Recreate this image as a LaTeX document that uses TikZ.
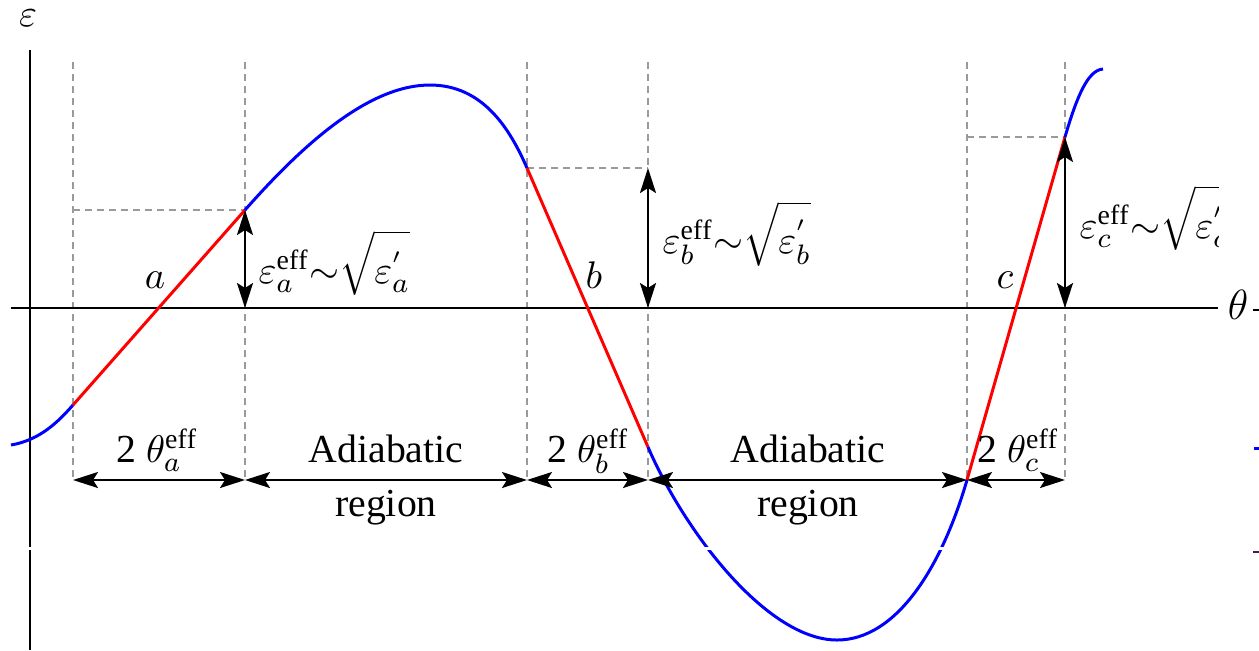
\documentclass[tikz,border=0pt]{standalone}
\usepackage{fontspec}
\setmainfont{Liberation Serif}
\usepackage{xcolor}
\usepackage{tikz}
\usetikzlibrary{arrows.meta}
\definecolor{ink}   {HTML}{000000}
\definecolor{guide} {HTML}{9A9A9A}
\definecolor{adia}  {HTML}{0000FF}
\definecolor{lz}    {HTML}{FF0000}
\definecolor{stub}  {HTML}{4A1A5A}
\tikzset{
  axis/.style  = {draw=ink, line width=0.6pt},
  grid1/.style = {draw=guide, line width=0.45pt, dash pattern=on 0.7mm off 0.5mm},
  slow/.style  = {draw=adia, line width=0.85pt},
  fast/.style  = {draw=lz, line width=0.85pt},
  span/.style  = {{Stealth[length=2.5mm,width=1.6mm,inset=0.5mm]}-{Stealth[length=2.5mm,width=1.6mm,inset=0.5mm]},
                  draw=ink, line width=0.6pt},
  lbl/.style   = {font=\fontsize{11.3}{15.6}\selectfont, text=ink, inner sep=0pt},
}

\begin{document}
\begin{tikzpicture}[x=0.01cm, y=-0.01cm]
  \useasboundingbox (0,0) rectangle (1259,650);

  % points on the curve
  \coordinate (p0)     at (11,445);
  \coordinate (a1)     at (73,405);
  \coordinate (a2)     at (245,210);
  \coordinate (crest)  at (430,85);
  \coordinate (b1)     at (527,168);
  \coordinate (b2)     at (648,447);
  \coordinate (trough) at (837,640);
  \coordinate (c1)     at (967,480);
  \coordinate (c2)     at (1065,137);
  \coordinate (p1)     at (1103,69);

  % guides
  \foreach \gx/\gn in {73/g1, 245/g2, 527/g3, 648/g4, 967/g5, 1065/g6} {
    \coordinate (\gn) at (\gx,480);
    \coordinate (\gn t) at (\gx,62);
    \draw[grid1] (\gn t) -- (\gn);
  }
  \coordinate (ha) at (73,210);
  \coordinate (hb) at (648,168);
  \coordinate (hc) at (967,137);
  \draw[grid1] (ha) -- (a2);
  \draw[grid1] (b1) -- (hb);
  \draw[grid1] (hc) -- (c2);

  % axes
  \coordinate (yb) at (30,650);
  \coordinate (yt) at (30,50);
  \coordinate (xl) at (11,308);
  \coordinate (xr) at (1218,308);
  \draw[axis] (yb) -- (yt);
  \draw[axis] (xl) -- (xr);
  \node[lbl] (eps) at (28,18) {$\varepsilon$};
  \node[lbl, font=\fontsize{12}{14}\selectfont] (theta) at (1238,305) {$\theta$};
  \draw[axis] (1253,310) -- (1259,310);

  % curve
  \draw[slow] (p0) .. controls (40,440) and (58,422) .. (a1);
  \draw[fast] (a1) -- (a2);
  \draw[slow] (a2) .. controls (305,142) and (370,85) .. (crest)
                   .. controls (483,85) and (510,129) .. (b1);
  \draw[fast] (b1) -- (b2);
  \draw[slow] (b2) .. controls (684,531) and (767,640) .. (trough)
                   .. controls (897,640) and (942,566) .. (c1);
  \draw[fast] (c1) -- (c2);
  \draw[slow] (c2) .. controls (1077,96) and (1088,70) .. (p1);

  % heights
  \coordinate (za) at (245,308);
  \coordinate (zb) at (648,308);
  \coordinate (zc) at (1065,308);
  \draw[span] (za) -- (a2);
  \draw[span] (zb) -- (hb);
  \draw[span] (zc) -- (c2);

  % widths
  \draw[span] (g1) -- (g2);
  \draw[span] (g2) -- (g3);
  \draw[span] (g3) -- (g4);
  \draw[span] (g4) -- (g5);
  \draw[span] (g5) -- (g6);

  % labels
  \node[lbl, anchor=base] (la) at (155,288) {$a$};
  \node[lbl, anchor=base] (lb) at (594,288) {$b$};
  \node[lbl, anchor=base] (lc) at (1005,288) {$c$};
  \node[lbl, anchor=base west] (ea) at (258,283)
    {$\varepsilon_a^{\mathrm{eff}}{\sim}\sqrt{\rule{0pt}{13pt}\varepsilon_a^{'}}$};
  \node[lbl, anchor=base west] (eb) at (662,253)
    {$\varepsilon_b^{\mathrm{eff}}{\sim}\sqrt{\rule{0pt}{13pt}\varepsilon_b^{'}}$};
  \begin{scope}
    \clip (1070,150) rectangle (1219,270);
    \node[lbl, anchor=base west] (ec) at (1079,238)
      {$\varepsilon_c^{\mathrm{eff}}{\sim}\sqrt{\rule{0pt}{13pt}\varepsilon_c^{'}}$};
  \end{scope}
  \node[lbl, anchor=base] (wa) at (157,462) {2 $\theta_a^{\mathrm{eff}}$};
  \node[lbl, align=center] (ra) at (386,480) {Adiabatic\\region};
  \node[lbl, anchor=base] (wb) at (588,462) {2 $\theta_b^{\mathrm{eff}}$};
  \node[lbl, align=center] (rb) at (808,480) {Adiabatic\\region};
  \node[lbl, anchor=base] (wc) at (1018,462) {2 $\theta_c^{\mathrm{eff}}$};

  % cut band and edge stubs
  \fill[white] (0,547) rectangle (1259,550);
  \draw[slow] (1254,448) -- (1259,448);
  \fill[stub] (1253,551) rectangle (1259,553);
\end{tikzpicture}
\end{document}
